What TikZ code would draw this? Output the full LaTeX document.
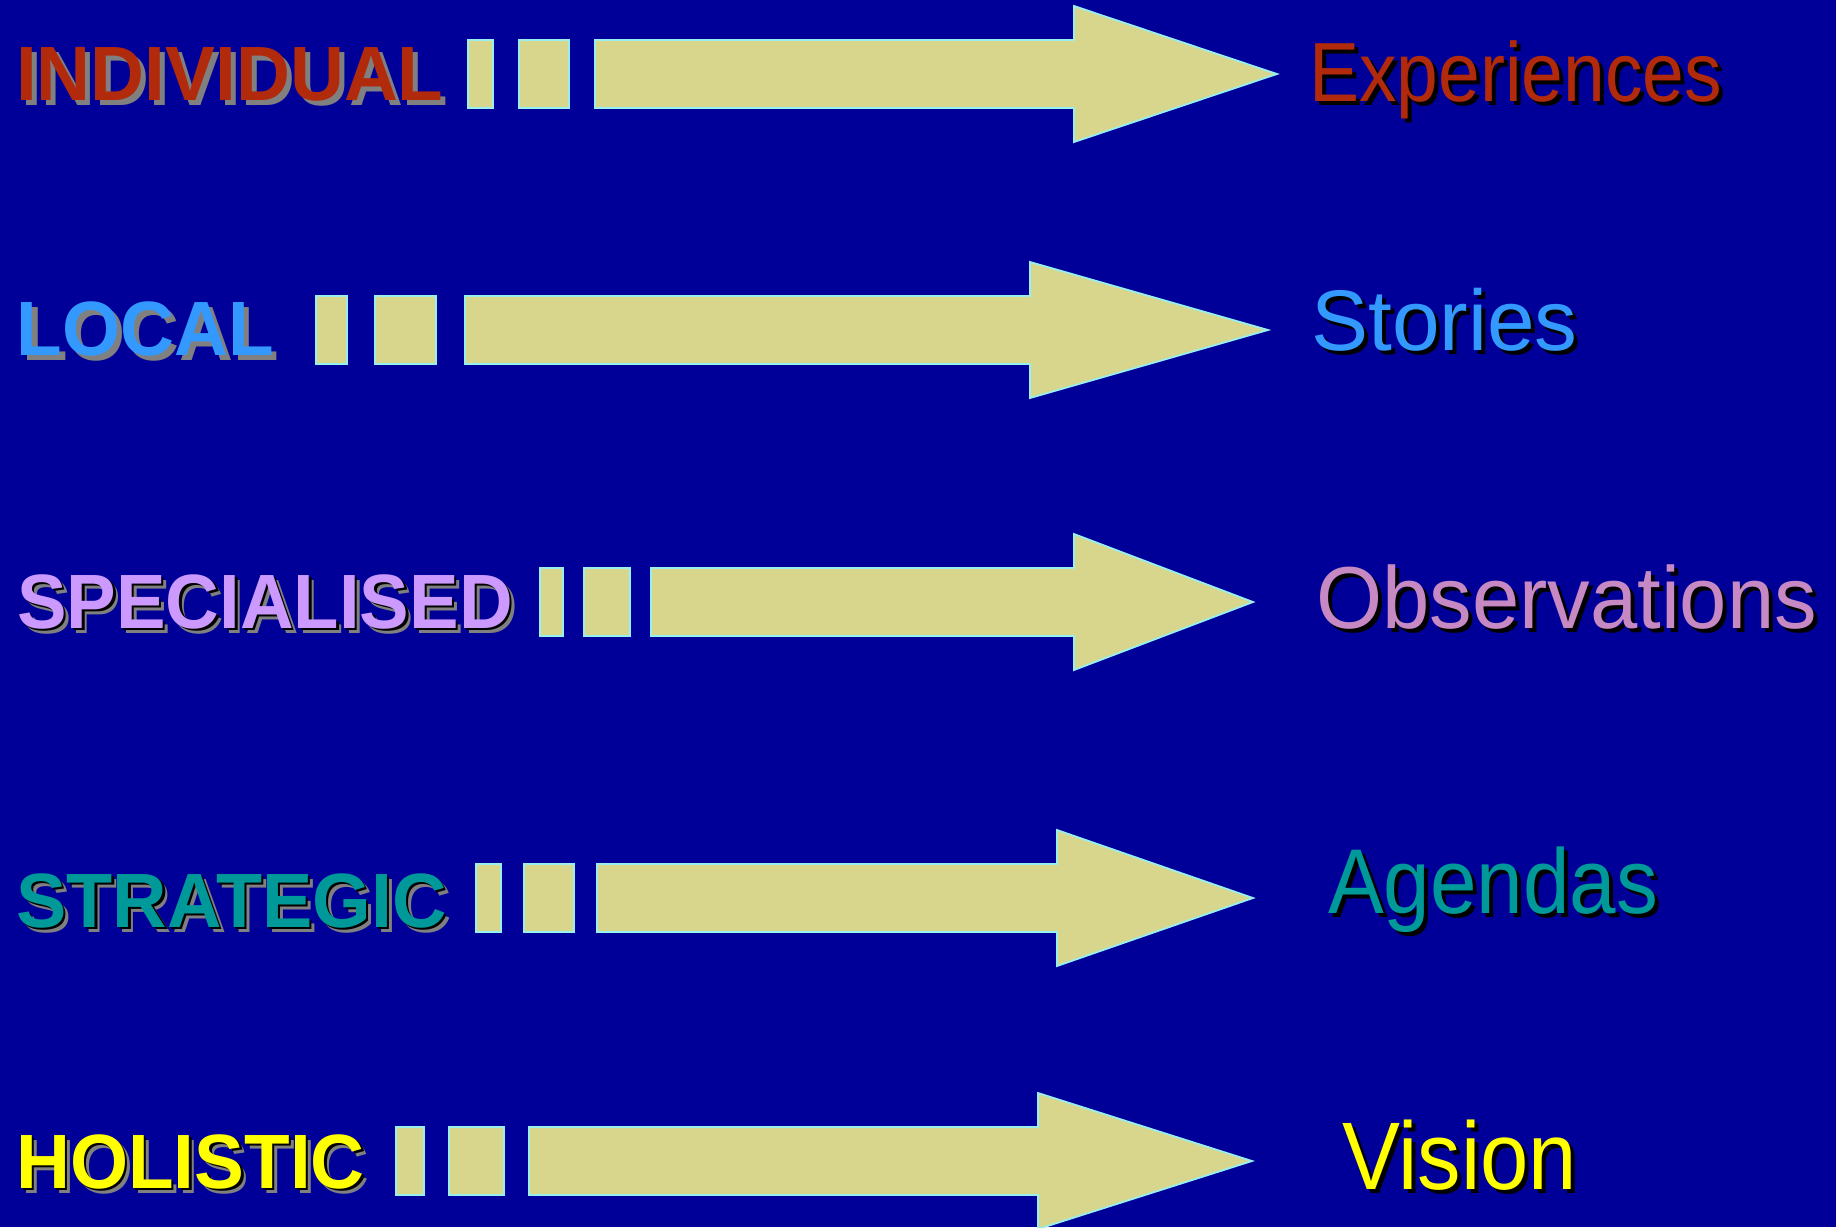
\documentclass[tikz,border=0pt]{standalone}
\usepackage{fontspec}
\setmainfont{Liberation Sans}
\usepackage{graphicx}

\definecolor{slideblue}{HTML}{000099}
\definecolor{barfill}{HTML}{D8D68C}
\definecolor{baredge}{HTML}{99EEEE}
\definecolor{rusttext}{HTML}{B22A0C}
\definecolor{skytext}{HTML}{3399FF}
\definecolor{lilactext}{HTML}{CC99FF}
\definecolor{mauvetext}{HTML}{C689C4}
\definecolor{tealtext}{HTML}{009999}
\definecolor{suntext}{HTML}{FFFF00}
\definecolor{shadegray}{HTML}{808080}

\newcommand{\squeeze}[2]{\scalebox{#1}[1]{#2}}

\tikzset{
  bar/.style = {fill=barfill, draw=baredge, line width=1.8pt, line join=miter},
  tag/.style = {anchor=base west, inner sep=0pt, font=\fontsize{77}{77}\selectfont\bfseries},
  word/.style = {anchor=base west, inner sep=0pt},
}

\begin{document}
\begin{tikzpicture}[x=1pt, y=-1pt]
\useasboundingbox (0,0) rectangle (1836,1227);
\fill[slideblue] (0,0) rectangle (1836,1227);

% dashed arrows: row y / bar 1 / bar 2 / shaft start / head base / tip
\foreach \y/\ba/\bb/\ca/\cb/\sh/\hd/\tp in {74/468/493/519/569/595/1074/1277,
    330/316/347/375/436/465/1030/1268,
    602/540/563/584/630/651/1074/1253,
    898/476/501/524/574/597/1057/1253,
    1161/396/424/449/504/529/1038/1252}
{
  \draw[bar] (\ba,\y-34) rectangle (\bb,\y+34);
  \draw[bar] (\ca,\y-34) rectangle (\cb,\y+34);
  \draw[bar] (\sh,\y-34) -- (\hd,\y-34) -- (\hd,\y-68) -- (\tp,\y)
    -- (\hd,\y+68) -- (\hd,\y+34) -- (\sh,\y+34) -- cycle;
}

% left labels
\node[tag, text=shadegray] (individual-gray) at (21,105) {\squeeze{0.97}{INDIVIDUAL}};
\node[tag, text=rusttext] (individual) at (16,100) {\squeeze{0.97}{INDIVIDUAL}};

\node[tag, text=shadegray] (local-gray) at (22,360.5) {\squeeze{0.97}{LOCAL}};
\node[tag, text=skytext] (local) at (16.5,355) {\squeeze{0.97}{LOCAL}};

\node[tag, text=shadegray] (specialised-gray) at (22,633) {\squeeze{0.965}{SPECIALISED}};
\node[tag, text=black] (specialised-black) at (19.5,630.5) {\squeeze{0.965}{SPECIALISED}};
\node[tag, text=lilactext] (specialised) at (17,628) {\squeeze{0.965}{SPECIALISED}};

\node[tag, text=shadegray] (strategic-gray) at (21,932) {\squeeze{0.98}{STRATEGIC}};
\node[tag, text=black] (strategic-black) at (18.5,929.5) {\squeeze{0.98}{STRATEGIC}};
\node[tag, text=tealtext] (strategic) at (16,927) {\squeeze{0.98}{STRATEGIC}};

\node[tag, text=shadegray] (holistic-gray) at (21,1193) {\squeeze{0.97}{HOLISTIC}};
\node[tag, text=black] (holistic-black) at (18.5,1190.5) {\squeeze{0.97}{HOLISTIC}};
\node[tag, text=suntext] (holistic) at (16,1188) {\squeeze{0.97}{HOLISTIC}};

% right labels
\node[word, text=black, font=\fontsize{84}{84}\selectfont] (experiences-shade) at (1313,105) {\squeeze{0.893}{Experiences}};
\node[word, text=rusttext, font=\fontsize{84}{84}\selectfont] (experiences) at (1309,101) {\squeeze{0.893}{Experiences}};

\node[word, text=black, font=\fontsize{86}{86}\selectfont] (stories-shade) at (1315,354) {\squeeze{0.995}{Stories}};
\node[word, text=skytext, font=\fontsize{86}{86}\selectfont] (stories) at (1311,350) {\squeeze{0.995}{Stories}};

\node[word, text=black, font=\fontsize{88}{88}\selectfont] (observations-shade) at (1320,632) {\squeeze{0.966}{Observations}};
\node[word, text=mauvetext, font=\fontsize{88}{88}\selectfont] (observations) at (1316,628) {\squeeze{0.966}{Observations}};

\node[word, text=black, font=\fontsize{92}{92}\selectfont] (agendas-shade) at (1332,917) {\squeeze{0.909}{Agendas}};
\node[word, text=tealtext, font=\fontsize{92}{92}\selectfont] (agendas) at (1328,913) {\squeeze{0.909}{Agendas}};

\node[word, text=black, font=\fontsize{96}{96}\selectfont] (vision-shade) at (1346,1193) {\squeeze{0.905}{Vision}};
\node[word, text=suntext, font=\fontsize{96}{96}\selectfont] (vision) at (1342,1189) {\squeeze{0.905}{Vision}};
\end{tikzpicture}
\end{document}
